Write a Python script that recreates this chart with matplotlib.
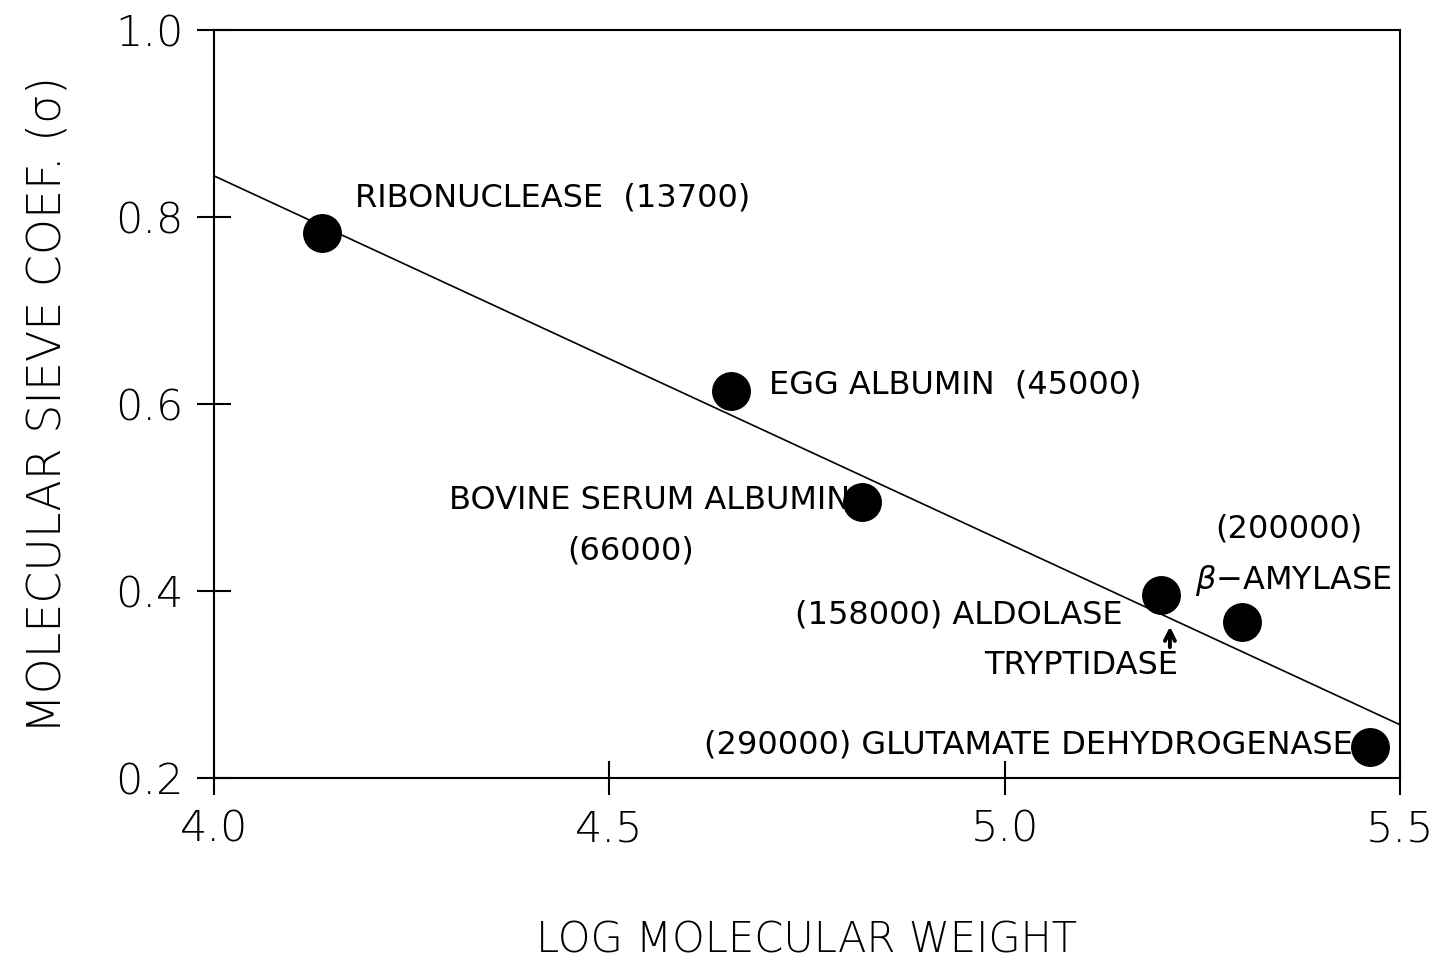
import matplotlib
matplotlib.use("Agg")
import matplotlib.pyplot as plt
import numpy as np

proteins = ["RIBONUCLEASE", "EGG ALBUMIN", "BOVINE SERUM ALBUMIN", "ALDOLASE",
            "β-AMYLASE", "GLUTAMATE DEHYDROGENASE"]
mol_weights = [13700, 45000, 66000, 158000, 200000, 290000]
log_mw = [4.137, 4.654, 4.820, 5.198, 5.300, 5.462]
sigma = [0.783, 0.614, 0.495, 0.396, 0.367, 0.233]
fit_x = [4.0, 5.5]
fit_y = [0.844, 0.257]
xticks = [4.0, 4.5, 5.0, 5.5]
yticks = [0.2, 0.4, 0.6, 0.8, 1.0]

plt.rcParams['font.family'] = ['DejaVu Sans']
fig = plt.figure(figsize=(14.39, 9.64), dpi=100)
ax = fig.add_axes([0.1487, 0.1929, 0.9729 - 0.1487, 0.9689 - 0.1929])

ax.plot(fit_x, fit_y, color='black', lw=1.2)
ax.plot(log_mw, sigma, 'o', color='black', ms=27)

ax.set_xlim(4.0, 5.5)
ax.set_ylim(0.2, 1.0)
ax.set_xticks(xticks)
ax.set_yticks(yticks)
ax.set_xticklabels([f"{t:.1f}" for t in xticks])
ax.set_yticklabels([f"{t:.1f}" for t in yticks])
ax.tick_params(direction='inout', length=24, width=1.5, labelsize=31, pad=10)
for lab in ax.get_xticklabels() + ax.get_yticklabels():
    lab.set_fontweight('light')
for s in ax.spines.values():
    s.set_linewidth(1.5)

ax.set_xlabel("LOG MOLECULAR WEIGHT", fontsize=30, labelpad=50, fontweight='light')
ax.set_ylabel("MOLECULAR SIEVE COEF. (σ)", fontsize=33, labelpad=33, fontweight='light')

fs = 23
kw = dict(fontsize=fs, va='baseline')
ax.text(4.178, 0.811, f"{proteins[0]}  ({mol_weights[0]})", ha='left', **kw)
ax.text(4.702, 0.611, f"{proteins[1]}  ({mol_weights[1]})", ha='left', **kw)
ax.text(4.804, 0.488, proteins[2], ha='right', **kw)
ax.text(4.527, 0.434, f"({mol_weights[2]})", ha='center', **kw)
ax.text(5.149, 0.365, f"({mol_weights[3]}) {proteins[3]}", ha='right', **kw)
ax.text(5.219, 0.311, "TRYPTIDASE", ha='right', **kw)
ax.annotate("", xy=(5.209, 0.362), xytext=(5.209, 0.340),
            arrowprops=dict(arrowstyle='->', color='black', lw=2.8,
                            mutation_scale=18, shrinkA=0, shrinkB=0))
ax.text(5.36, 0.457, f"({mol_weights[4]})", ha='center', **kw)
ax.text(5.365, 0.402, "$\\beta$$-$AMYLASE", ha='center', **kw)
ax.text(5.44, 0.226, f"({mol_weights[5]}) {proteins[5]}", ha='right', **kw)

fig.savefig("out.png", dpi=100)
